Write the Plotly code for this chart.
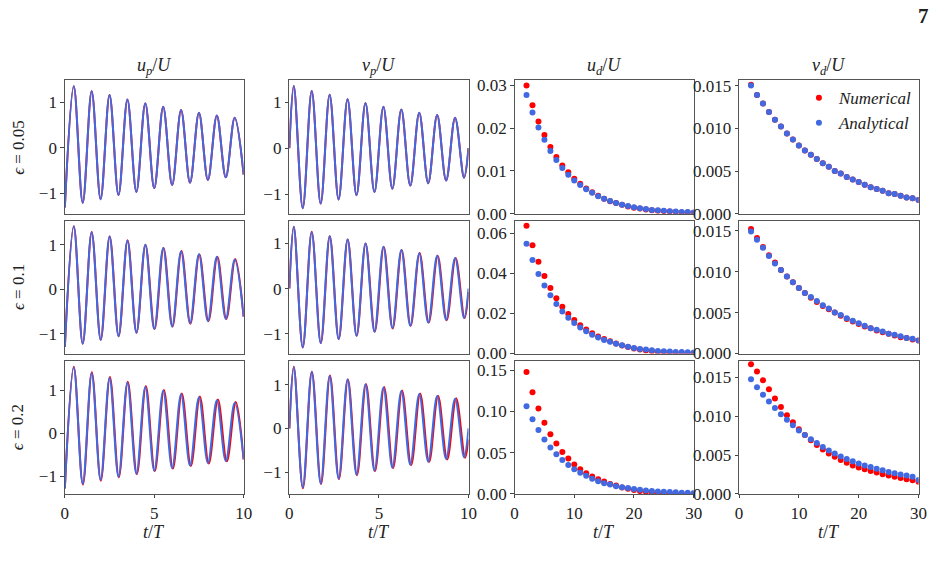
import plotly.graph_objects as go
from plotly.subplots import make_subplots

# ---------------- data ----------------
EPS_LABELS = ["0.05", "0.1", "0.2"]
COL_TITLES = ["<i>u<sub>p</sub></i>/<i>U</i>", "<i>v<sub>p</sub></i>/<i>U</i>",
              "<i>u<sub>d</sub></i>/<i>U</i>", "<i>v<sub>d</sub></i>/<i>U</i>"]

# extrema of the oscillating curves (times and values)
T_UP = [0, 0.5, 1, 1.5, 2, 2.5, 3, 3.5, 4, 4.5, 5, 5.5, 6, 6.5, 7, 7.5, 8, 8.5, 9, 9.5, 10]
T_VP = [0, 0.25, 0.75, 1.25, 1.75, 2.25, 2.75, 3.25, 3.75, 4.25, 4.75, 5.25, 5.75, 6.25,
        6.75, 7.25, 7.75, 8.25, 8.75, 9.25, 9.75, 10]

up_ana_1 = [-1.31, 1.35, -1.21, 1.24, -1.13, 1.16, -1.04, 1.06, -0.97, 0.98, -0.89, 0.90,
            -0.82, 0.83, -0.77, 0.77, -0.71, 0.71, -0.65, 0.66, -0.59]
up_num_1 = [-1.31, 1.35, -1.21, 1.24, -1.13, 1.16, -1.04, 1.06, -0.97, 0.98, -0.89, 0.90,
            -0.82, 0.83, -0.77, 0.77, -0.71, 0.71, -0.65, 0.66, -0.59]
vp_ana_1 = [0, 1.35, -1.30, 1.24, -1.20, 1.16, -1.11, 1.06, -1.02, 0.98, -0.95, 0.90,
            -0.88, 0.84, -0.81, 0.77, -0.76, 0.72, -0.70, 0.66, -0.64, 0]
vp_num_1 = [0, 1.35, -1.30, 1.24, -1.20, 1.16, -1.11, 1.06, -1.02, 0.98, -0.95, 0.90,
            -0.88, 0.84, -0.81, 0.77, -0.76, 0.72, -0.70, 0.66, -0.64, 0]

up_ana_2 = [-1.30, 1.41, -1.23, 1.28, -1.14, 1.19, -1.06, 1.09, -0.98, 1.00, -0.90, 0.93,
            -0.84, 0.85, -0.77, 0.79, -0.72, 0.73, -0.67, 0.67, -0.62]
up_num_2 = [-1.30, 1.42, -1.23, 1.29, -1.14, 1.19, -1.06, 1.10, -0.98, 1.00, -0.90, 0.93,
            -0.84, 0.86, -0.78, 0.79, -0.72, 0.73, -0.67, 0.68, -0.62]
T_UP_NUM_2 = [0, 0.50, 1.00, 1.50, 2.01, 2.51, 3.01, 3.51, 4.01, 4.51, 5.02, 5.52, 6.02,
              6.52, 7.02, 7.52, 8.03, 8.53, 9.03, 9.53, 10]
vp_ana_2 = [0, 1.36, -1.29, 1.24, -1.20, 1.15, -1.11, 1.08, -1.04, 0.99, -0.95, 0.92,
            -0.87, 0.85, -0.82, 0.77, -0.75, 0.72, -0.69, 0.67, -0.65, 0]
vp_num_2 = [0, 1.36, -1.30, 1.25, -1.20, 1.15, -1.11, 1.08, -1.04, 0.99, -0.95, 0.92,
            -0.88, 0.85, -0.82, 0.78, -0.75, 0.72, -0.70, 0.67, -0.65, -0.08]
T_VP_NUM_2 = [0, 0.25, 0.75, 1.25, 1.76, 2.26, 2.76, 3.26, 3.76, 4.26, 4.77, 5.27, 5.77,
              6.27, 6.77, 7.27, 7.78, 8.28, 8.78, 9.28, 9.78, 10]

up_ana_3 = [-1.28, 1.53, -1.17, 1.40, -1.08, 1.29, -1.01, 1.18, -0.94, 1.08, -0.87, 0.99,
            -0.81, 0.91, -0.75, 0.84, -0.69, 0.77, -0.64, 0.71, -0.60]
up_num_3 = [-1.28, 1.55, -1.19, 1.42, -1.10, 1.31, -1.02, 1.20, -0.95, 1.10, -0.88, 1.01,
            -0.82, 0.93, -0.76, 0.86, -0.70, 0.79, -0.65, 0.73, -0.61]
T_UP_NUM_3 = [0, 0.50, 1.01, 1.51, 2.01, 2.52, 3.02, 3.52, 4.03, 4.53, 5.03, 5.54, 6.04,
              6.54, 7.05, 7.55, 8.05, 8.56, 9.06, 9.56, 10]
vp_ana_3 = [0, 1.40, -1.35, 1.29, -1.26, 1.20, -1.15, 1.12, -1.06, 1.01, -0.97, 0.94,
            -0.90, 0.86, -0.83, 0.79, -0.76, 0.74, -0.70, 0.68, -0.66, 0]
vp_num_3 = [0, 1.41, -1.37, 1.30, -1.27, 1.21, -1.16, 1.12, -1.07, 1.02, -0.98, 0.95,
            -0.91, 0.87, -0.84, 0.80, -0.77, 0.75, -0.71, 0.69, -0.67, -0.25]
T_VP_NUM_3 = [0, 0.25, 0.76, 1.26, 1.77, 2.27, 2.77, 3.27, 3.78, 4.28, 4.78, 5.29, 5.79,
              6.29, 6.80, 7.30, 7.80, 8.30, 8.81, 9.31, 9.81, 10]

# drift velocities sampled at t/T = 2..30
T_D = [2, 3, 4, 5, 6, 7, 8, 9, 10, 11, 12, 13, 14, 15, 16, 17, 18, 19, 20, 21, 22, 23,
       24, 25, 26, 27, 28, 29, 30]

ud_ana_1 = [0.0278, 0.0237, 0.0202, 0.0173, 0.0147, 0.0126, 0.0107, 0.0091, 0.0078, 0.0067,
            0.0057, 0.0049, 0.0041, 0.0035, 0.0030, 0.0025, 0.0021, 0.0018, 0.0015, 0.0013,
            0.0011, 0.0009, 0.0008, 0.0007, 0.0006, 0.0005, 0.0004, 0.0004, 0.0003]
ud_num_1 = [0.0300, 0.0254, 0.0216, 0.0184, 0.0156, 0.0133, 0.0113, 0.0097, 0.0082, 0.0070,
            0.0059, 0.0050, 0.0042, 0.0035, 0.0029, 0.0025, 0.0021, 0.0017, 0.0014, 0.0012,
            0.0010, 0.0008, 0.0007, 0.0006, 0.0005, 0.0004, 0.0003, 0.0003, 0.0002]
vd_ana_1 = [0.0150, 0.0139, 0.0129, 0.0119, 0.0110, 0.0102, 0.0094, 0.0087, 0.0080, 0.0074,
            0.0069, 0.0064, 0.0059, 0.0055, 0.0050, 0.0047, 0.0043, 0.0040, 0.0037, 0.0034,
            0.0031, 0.0029, 0.0027, 0.0024, 0.0023, 0.0021, 0.0019, 0.0018, 0.0016]
vd_num_1 = [0.0151, 0.0139, 0.0129, 0.0119, 0.0110, 0.0102, 0.0094, 0.0087, 0.0080, 0.0074,
            0.0069, 0.0064, 0.0059, 0.0055, 0.0050, 0.0047, 0.0043, 0.0040, 0.0037, 0.0034,
            0.0031, 0.0029, 0.0027, 0.0024, 0.0023, 0.0021, 0.0019, 0.0018, 0.0016]

ud_ana_2 = [0.0548, 0.0467, 0.0398, 0.0340, 0.0291, 0.0247, 0.0210, 0.0179, 0.0153, 0.0130,
            0.0111, 0.0094, 0.0080, 0.0068, 0.0059, 0.0049, 0.0041, 0.0034, 0.0028, 0.0023,
            0.0020, 0.0016, 0.0013, 0.0011, 0.0010, 0.0008, 0.0007, 0.0006, 0.0005]
ud_num_2 = [0.0639, 0.0541, 0.0459, 0.0387, 0.0328, 0.0276, 0.0234, 0.0198, 0.0167, 0.0141,
            0.0120, 0.0101, 0.0085, 0.0072, 0.0061, 0.0050, 0.0040, 0.0032, 0.0025, 0.0020,
            0.0015, 0.0011, 0.0008, 0.0006, 0.0004, 0.0003, 0.0002, 0.0001, 0.0001]
vd_ana_2 = [0.0149, 0.0139, 0.0129, 0.0119, 0.0110, 0.0102, 0.0094, 0.0087, 0.0080, 0.0074,
            0.0069, 0.0064, 0.0059, 0.0055, 0.0050, 0.0047, 0.0043, 0.0040, 0.0037, 0.0034,
            0.0031, 0.0029, 0.0027, 0.0024, 0.0023, 0.0021, 0.0019, 0.0018, 0.0016]
vd_num_2 = [0.0152, 0.0141, 0.0130, 0.0120, 0.0111, 0.0102, 0.0094, 0.0087, 0.0080, 0.0074,
            0.0068, 0.0063, 0.0058, 0.0054, 0.0050, 0.0046, 0.0042, 0.0039, 0.0036, 0.0033,
            0.0031, 0.0028, 0.0026, 0.0024, 0.0022, 0.0020, 0.0019, 0.0017, 0.0016]

ud_ana_3 = [0.1063, 0.0906, 0.0776, 0.0661, 0.0563, 0.0480, 0.0413, 0.0350, 0.0299, 0.0256,
            0.0220, 0.0185, 0.0154, 0.0130, 0.0114, 0.0094, 0.0083, 0.0071, 0.0059, 0.0051,
            0.0043, 0.0035, 0.0031, 0.0028, 0.0024, 0.0020, 0.0016, 0.0016, 0.0012]
ud_num_3 = [0.1476, 0.1232, 0.1035, 0.0862, 0.0724, 0.0610, 0.0508, 0.0429, 0.0358, 0.0299,
            0.0252, 0.0213, 0.0177, 0.0150, 0.0122, 0.0102, 0.0080, 0.0063, 0.0048, 0.0036,
            0.0026, 0.0018, 0.0012, 0.0008, 0.0005, 0.0003, 0.0002, 0.0001, 0.0000]
vd_ana_3 = [0.01475, 0.01371, 0.01275, 0.01188, 0.01104, 0.01025, 0.00954, 0.00883, 0.00817,
            0.00758, 0.00704, 0.00654, 0.00604, 0.00558, 0.00521, 0.00483, 0.00450, 0.00421,
            0.00392, 0.00367, 0.00346, 0.00325, 0.00304, 0.00283, 0.00267, 0.00250, 0.00238,
            0.00221, 0.00180]
vd_num_3 = [0.01667, 0.01575, 0.01463, 0.01346, 0.01229, 0.01117, 0.01013, 0.00921, 0.00833,
            0.00758, 0.00692, 0.00629, 0.00571, 0.00521, 0.00479, 0.00438, 0.00400, 0.00367,
            0.00342, 0.00317, 0.00296, 0.00275, 0.00254, 0.00238, 0.00221, 0.00204, 0.00188,
            0.00175, 0.00158]

# ---------------- figure ----------------
W, H = 945, 571
RED = "#ff0000"
BLUE = "#4169e1"
FONT = "Liberation Serif"

COL_PX = [(61.7, 243.0), (289.3, 471.0), (517.7, 699.3), (745.3, 927.3)]
ROW_PX = [(78.3, 215.0), (222.3, 358.3), (365.7, 502.3)]

rows_data = [
    dict(up=(T_UP, up_ana_1, T_UP, up_num_1), vp=(T_VP, vp_ana_1, T_VP, vp_num_1),
         ud=(ud_ana_1, ud_num_1), vd=(vd_ana_1, vd_num_1),
         ry=[(-1.45, 1.48), (-1.42, 1.47), (0, 0.0312), (0, 0.01561)],
         udt=[0, 0.01, 0.02, 0.03], vdt=[0, 0.005, 0.010, 0.015]),
    dict(up=(T_UP, up_ana_2, T_UP_NUM_2, up_num_2), vp=(T_VP, vp_ana_2, T_VP_NUM_2, vp_num_2),
         ud=(ud_ana_2, ud_num_2), vd=(vd_ana_2, vd_num_2),
         ry=[(-1.45, 1.54), (-1.43, 1.49), (0, 0.0663), (0, 0.0162)],
         udt=[0, 0.02, 0.04, 0.06], vdt=[0, 0.005, 0.010, 0.015]),
    dict(up=(T_UP, up_ana_3, T_UP_NUM_3, up_num_3), vp=(T_VP, vp_ana_3, T_VP_NUM_3, vp_num_3),
         ud=(ud_ana_3, ud_num_3), vd=(vd_ana_3, vd_num_3),
         ry=[(-1.41, 1.69), (-1.50, 1.55), (0, 0.1614), (0, 0.01713)],
         udt=[0, 0.05, 0.10, 0.15], vdt=[0, 0.005, 0.010, 0.015]),
]

fig = make_subplots(rows=3, cols=4)

for r, rd in enumerate(rows_data, start=1):
    for c, key in enumerate(["up", "vp"], start=1):
        ta, ya, tn, yn = rd[key]
        fig.add_trace(go.Scatter(x=tn, y=yn, mode="lines", line=dict(color=RED, width=2, shape="spline", smoothing=1),
                                 showlegend=False, hoverinfo="skip"), row=r, col=c)
        fig.add_trace(go.Scatter(x=ta, y=ya, mode="lines", line=dict(color=BLUE, width=2, shape="spline", smoothing=1),
                                 showlegend=False, hoverinfo="skip"), row=r, col=c)
    for c, key in [(3, "ud"), (4, "vd")]:
        ya, yn = rd[key]
        leg = (r == 1 and c == 4)
        fig.add_trace(go.Scatter(x=T_D, y=yn, mode="markers", name="<i>Numerical</i>",
                                 marker=dict(color=RED, size=6), showlegend=leg), row=r, col=c)
        fig.add_trace(go.Scatter(x=T_D, y=ya, mode="markers", name="<i>Analytical</i>",
                                 marker=dict(color=BLUE, size=6), showlegend=leg), row=r, col=c)

axis_common = dict(showline=True, mirror=True, linecolor="#555", linewidth=1, showgrid=False,
                   zeroline=False, tickfont=dict(family=FONT, size=17, color="#222"),
                   tickcolor="#444", ticklen=3.5)

for r in range(1, 4):
    rd = rows_data[r - 1]
    for c in range(1, 5):
        idx = (r - 1) * 4 + c
        sfx = "" if idx == 1 else str(idx)
        x0, x1 = COL_PX[c - 1]
        y0, y1 = ROW_PX[r - 1]
        xr = [0, 10] if c <= 2 else [0, 30]
        xt = [0, 5, 10] if c <= 2 else [0, 10, 20, 30]
        bottom = (r == 3)
        xa = dict(axis_common, domain=[x0 / W, x1 / W], range=xr, tickvals=xt,
                  showticklabels=bottom, ticks="outside" if bottom else "")
        if c <= 2:
            ya = dict(axis_common, domain=[1 - y1 / H, 1 - y0 / H], range=list(rd["ry"][c - 1]),
                      tickvals=[-1, 0, 1], ticks="outside")
        else:
            tv = rd["udt"] if c == 3 else rd["vdt"]
            ya = dict(axis_common, domain=[1 - y1 / H, 1 - y0 / H], range=list(rd["ry"][c - 1]),
                      tickvals=tv, tickformat=".2f" if c == 3 else ".3f", ticks="outside")
        fig.layout["xaxis" + sfx].update(xa)
        fig.layout["yaxis" + sfx].update(ya)

annotations = []
for c in range(4):
    x0, x1 = COL_PX[c]
    annotations.append(dict(text=COL_TITLES[c], x=(x0 + x1) / 2 / W, y=1 - 64 / H, xref="paper", yref="paper",
                            showarrow=False, font=dict(family=FONT, size=18, color="#222"),
                            xanchor="center", yanchor="middle"))
    annotations.append(dict(text="<i>t</i>/<i>T</i>", x=(x0 + x1) / 2 / W, y=1 - 541 / H, xref="paper", yref="paper",
                            showarrow=False, font=dict(family=FONT, size=18, color="#222"),
                            xanchor="center", yanchor="middle"))
for r in range(3):
    y0, y1 = ROW_PX[r]
    annotations.append(dict(text="<i>ϵ</i> = " + EPS_LABELS[r], x=14 / W, y=1 - (y0 + y1) / 2 / H,
                            xref="paper", yref="paper", showarrow=False, textangle=-90,
                            font=dict(family=FONT, size=17, color="#222"),
                            xanchor="center", yanchor="middle"))
annotations.append(dict(text="<b>7</b>", x=932 / W, y=1 - 12 / H, xref="paper", yref="paper", showarrow=False,
                        font=dict(family=FONT, size=21, color="#222"), xanchor="center", yanchor="middle"))

fig.update_layout(
    width=W, height=H, margin=dict(l=0, r=0, t=0, b=0),
    paper_bgcolor="white", plot_bgcolor="white",
    annotations=annotations,
    legend=dict(x=806 / W, y=1 - 78 / H, xanchor="left", yanchor="top", bgcolor="rgba(0,0,0,0)",
                font=dict(family=FONT, size=17, color="#222"), itemwidth=30, tracegroupgap=0),
)

fig.write_html("out.html")
